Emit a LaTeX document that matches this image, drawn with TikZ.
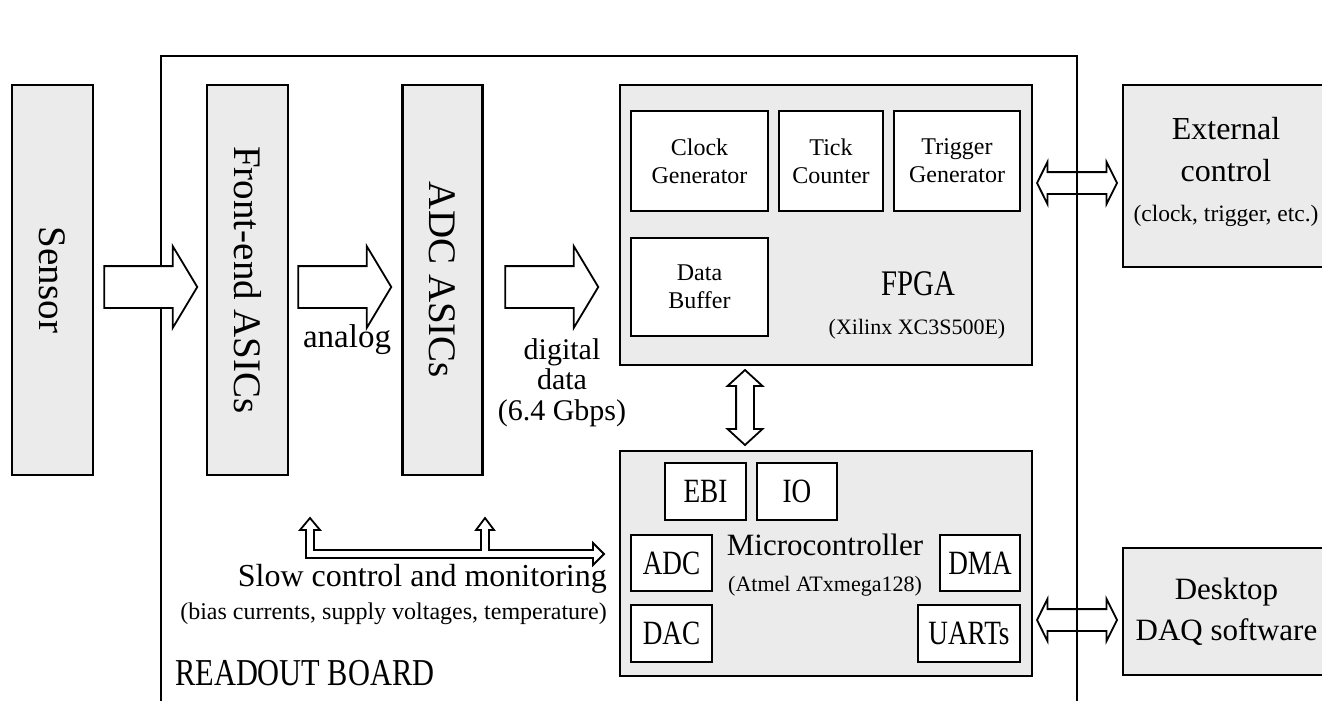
\documentclass[tikz,border=0pt]{standalone}
\usepackage{fontspec}
\setmainfont{Liberation Serif}
\newfontfamily\capsfont[FakeStretch=0.8]{Liberation Serif}
\usetikzlibrary{shapes.arrows, positioning}
\definecolor{boxgray}{RGB}{235,235,235}
\newcommand\fsz[2]{\fontsize{#1}{#2}\selectfont}

\begin{document}
\begin{tikzpicture}[
    x=1pt, y=-1pt,
    node distance=8.4 and 8.4,
    graybox/.style={draw, line width=2.6, fill=boxgray, inner sep=0, align=center},
    whitebox/.style={draw, line width=2.6, fill=white, inner sep=0, align=center},
    lbl/.style={inner sep=0, align=center},
    bigarrow/.style={single arrow, draw, line width=1.8, fill=white, inner xsep=0, inner ysep=20, single arrow head extend=20, single arrow tip angle=118, minimum height=93},
    linkarrow/.style={double arrow, draw, line width=1.8, inner xsep=0, inner ysep=10, double arrow head extend=10, double arrow tip angle=127, minimum height=80}
]
\useasboundingbox (0,0) rectangle (1322,701);
\clip (0,0) rectangle (1322,701);

% Readout board
\draw[line width=2.4] (161,712) -- (161,56) -- (1077,56) -- (1077,712);
\node[lbl, anchor=west, font=\capsfont\fsz{38}{42}] (boardlbl) at (175,673) {READOUT BOARD};

% Nodes
\node[graybox, rotate=-90, minimum width=390, minimum height=81, font=\fsz{39}{44}] (sensor) at (52.5,280) {Sensor};
\node[graybox, rotate=-90, minimum width=390, minimum height=81, font=\fsz{39}{44}] (fe) at (247.5,280) {Front-end ASICs};
\node[graybox, rotate=-90, minimum width=390, minimum height=80, font=\fsz{39}{44}] (adc) at (442.5,280) {ADC ASICs};

\node[graybox, minimum width=412, minimum height=280] (fpga) at (826,225) {};
\node[whitebox, minimum width=137, minimum height=100, font=\fsz{24}{28}] (clk) at (699.5,161) {Clock\\Generator};
\node[whitebox, minimum width=104, minimum height=100, font=\fsz{24}{28}, right=of clk] (tick) {Tick\\Counter};
\node[whitebox, minimum width=126, minimum height=100, font=\fsz{24}{28}, right=of tick] (trig) {Trigger\\Generator};
\node[whitebox, minimum width=137, minimum height=98, font=\fsz{24}{28}] (buf) at (699.5,287) {Data\\Buffer};
\node[lbl, font=\capsfont\fsz{36}{40}] (fpgalbl) at (918,284) {FPGA};
\node[lbl, font=\fsz{22}{26}] (xilinx) at (917,329) {(Xilinx XC3S500E)};

\node[graybox, minimum width=412, minimum height=225] (micro) at (826,563.5) {};
\node[whitebox, minimum width=81, minimum height=57, font=\capsfont\fsz{34}{38}] (ebi) at (705.5,491.5) {EBI};
\node[whitebox, minimum width=80, minimum height=57, font=\capsfont\fsz{34}{38}, right=of ebi] (io) {IO};
\node[whitebox, minimum width=81, minimum height=56, font=\capsfont\fsz{34}{38}] (madc) at (671.5,563) {ADC};
\node[whitebox, minimum width=81, minimum height=57, font=\capsfont\fsz{34}{38}] (dac) at (671.5,633.5) {DAC};
\node[whitebox, minimum width=80, minimum height=56, font=\capsfont\fsz{34}{38}] (dma) at (980,563) {DMA};
\node[whitebox, minimum width=102, minimum height=57, font=\capsfont\fsz{34}{38}] (uarts) at (969,633.5) {UARTs};
\node[lbl, font=\fsz{31}{35}] (microlbl) at (825,545) {Microcontroller};
\node[lbl, font=\fsz{22}{26}] (atmel) at (825,586) {(Atmel ATxmega128)};

\node[graybox, minimum width=207, minimum height=182] (ext) at (1226.5,176) {};
\node[lbl, font=\fsz{32}{42}] (extlbl) at (1226,150) {External\\control};
\node[lbl, font=\fsz{23.5}{28}] (extnote) at (1226,216) {(clock, trigger, etc.)};

\node[graybox, minimum width=207, minimum height=127, font=\fsz{31}{41}] (daq) at (1226.5,611.5) {Desktop\\DAQ software};

% Arrows
\node[bigarrow] (a1) at (144.5,287) {};
\node[bigarrow] (a2) at (338.5,287) {};
\node[bigarrow] (a3) at (545.5,287) {};
\node[lbl, font=\fsz{33}{36}] (analog) at (347,340) {analog};
\node[lbl, font=\fsz{30}{30.5}] (digital) at (562,382.5) {digital\\data\\(6.4 Gbps)};

\node[linkarrow] (d1) at (1077,183) {};
\node[linkarrow] (d2) at (1077,620) {};
\node[linkarrow, rotate=90, minimum height=75, inner ysep=8, double arrow head extend=8.5, double arrow tip angle=95] (d3) at (745,407.5) {};

% Slow control
\draw[line width=1.8, fill=white] (310,518) -- (320,530) -- (314,530) -- (314,550) -- (481,550) -- (481,530) -- (476,530) -- (485,518) -- (494,530) -- (489,530) -- (489,550) -- (593,550) -- (593,543) -- (604,554) -- (593,565) -- (593,558) -- (306,558) -- (306,530) -- (300,530) -- cycle;
\node[lbl, anchor=east, font=\fsz{32}{36}] (slowlbl) at (607,579) {Slow control and monitoring};
\node[lbl, anchor=east, font=\fsz{24}{28}] (biaslbl) at (607,614) {(bias currents, supply voltages, temperature)};

\end{tikzpicture}
\end{document}
